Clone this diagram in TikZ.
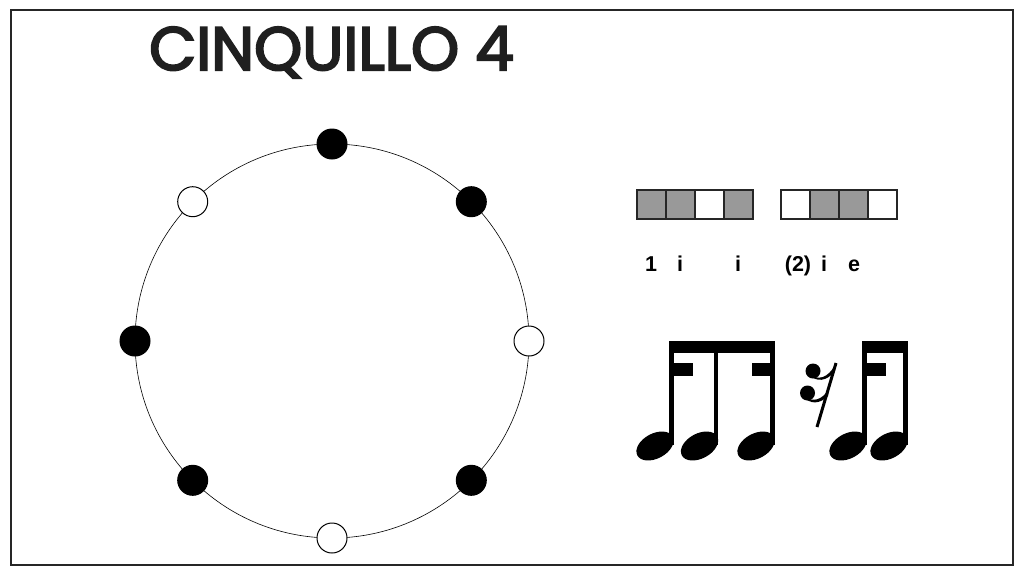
\documentclass[tikz,border=0pt]{standalone}
\usepackage{fontspec}
\newfontfamily\titlefont{Poppins}[FakeBold=3.5]
\newfontfamily\labfont{Liberation Sans}
\begin{document}
\begin{tikzpicture}[x=1pt,y=-1pt,
  beat/.style={circle,draw=black,line width=1pt,minimum size=30pt,inner sep=0pt},
  on/.style={beat,fill=black},
  off/.style={beat,fill=white},
  cell/.style={draw=black!85,line width=1.4pt,minimum width=29pt,minimum height=29pt,inner sep=0pt},
  hit/.style={cell,fill=black!40},
  emp/.style={cell,fill=white},
  lab/.style={font=\labfont\bfseries\fontsize{21.5}{21.5}\selectfont,inner sep=0pt,anchor=base},
  stemline/.style={line width=4.8pt},
  notehead/.style={fill=black}
]
\useasboundingbox (0,0) rectangle (1024,576);
\draw[line width=1.2pt,black!85] (11,10) rectangle (1013,565);
\node[font=\titlefont\fontsize{61}{61}\selectfont,inner sep=0pt,anchor=base west,text=black!88] (title) at (149,70) {CINQUILLO 4};

% circle of beats
\node[circle,draw=black,line width=0.6pt,minimum size=394pt,inner sep=0pt] (ring) at (332,341) {};
\node[on]  (p0) at (332,144) {};
\node[on]  (p1) at (471.3,201.7) {};
\node[off] (p2) at (529,341) {};
\node[on]  (p3) at (471.3,480.3) {};
\node[off] (p4) at (332,538) {};
\node[on]  (p5) at (192.7,480.3) {};
\node[on]  (p6) at (135,341) {};
\node[off] (p7) at (192.7,201.7) {};

% boxes
\node[hit] (a1) at (651.5,204.5) {};
\node[hit] (a2) at (680.5,204.5) {};
\node[emp] (a3) at (709.5,204.5) {};
\node[hit] (a4) at (738.5,204.5) {};
\node[emp] (b1) at (795.5,204.5) {};
\node[hit] (b2) at (824.5,204.5) {};
\node[hit] (b3) at (853.5,204.5) {};
\node[emp] (b4) at (882.5,204.5) {};

% labels
\node[lab] (l1) at (651,271.5) {1};
\node[lab] (l2) at (680,271.5) {i};
\node[lab] (l3) at (738,271.5) {i};
\node[lab] (l4) at (798,271.5) {(2)};
\node[lab] (l5) at (824,271.5) {i};
\node[lab] (l6) at (854,271.5) {e};

% notes group 1
\fill (669,341) rectangle (775,353);
\fill (669,363) rectangle (693,376);
\fill (752,363) rectangle (775,376);
\draw[stemline] (671.4,343) -- (671.4,445);
\draw[stemline] (716,343) -- (716,445);
\draw[stemline] (772.6,343) -- (772.6,445);
\fill[notehead,rotate around={28:(655,446)}] (655,446) ellipse (20 and 12.5);
\fill[notehead,rotate around={28:(699.5,446)}] (699.5,446) ellipse (20 and 12.5);
\fill[notehead,rotate around={28:(756,446)}] (756,446) ellipse (20 and 12.5);

% sixteenth rest
\fill (813,371) circle (7.5);
\fill (807.5,393) circle (7.5);
\draw[line width=3pt] (836,363) -- (817,427);
\fill (809,374) .. controls (818,381) and (828,378) .. (835,365) -- (834,372) .. controls (827,381) and (816,383) .. (809,374) -- cycle;
\fill (803,396) .. controls (813,403) and (822,400) .. (829,389) -- (828,396) .. controls (820,404) and (810,405) .. (803,396) -- cycle;

% notes group 2
\fill (862,341) rectangle (908,353);
\fill (862,363) rectangle (886,376);
\draw[stemline] (864.4,343) -- (864.4,445);
\draw[stemline] (905.6,343) -- (905.6,445);
\fill[notehead,rotate around={28:(848,446)}] (848,446) ellipse (20 and 12.5);
\fill[notehead,rotate around={28:(889,446)}] (889,446) ellipse (20 and 12.5);
\end{tikzpicture}
\end{document}
